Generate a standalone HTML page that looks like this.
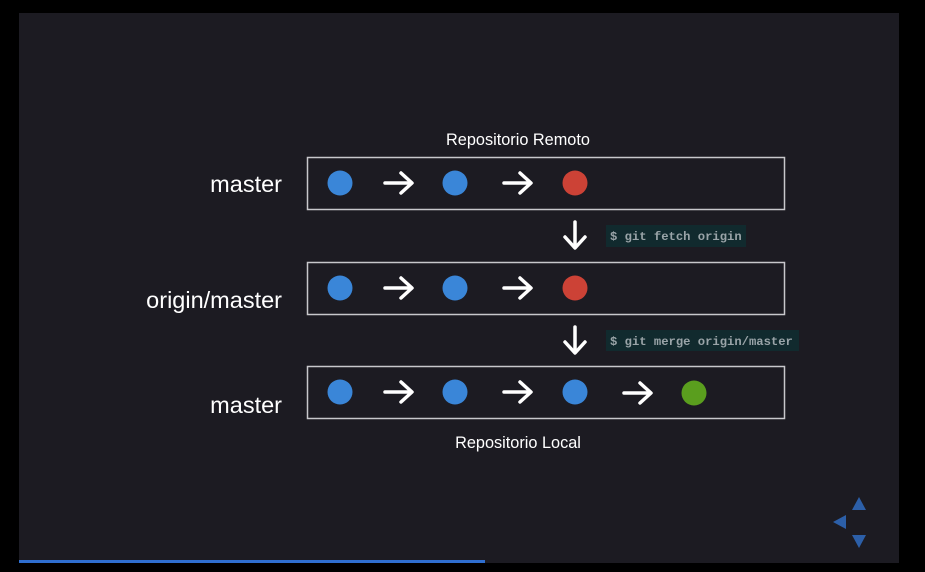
<!DOCTYPE html>
<html><head><meta charset="utf-8"><style>
html,body{margin:0;padding:0;background:#000;width:925px;height:572px;overflow:hidden}
</style></head><body>
<svg width="925" height="572" viewBox="0 0 925 572" xmlns="http://www.w3.org/2000/svg">
<rect x="0" y="0" width="925" height="572" fill="#000"/>
<rect x="19" y="13" width="880" height="550" fill="#1c1b22"/>
<rect x="19" y="560" width="466" height="3" fill="#2f6fd0"/>
<g font-family="Liberation Sans, DejaVu Sans, sans-serif" fill="#fff">
<text x="518" y="145" font-size="16.3" text-anchor="middle">Repositorio Remoto</text>
<text x="518" y="448" font-size="16.3" text-anchor="middle">Repositorio Local</text>
<text x="282" y="192" font-size="23.5" text-anchor="end">master</text>
<text x="282" y="308" font-size="23.5" text-anchor="end">origin/master</text>
<text x="282" y="413" font-size="23.5" text-anchor="end">master</text>
</g>
<g fill="none" stroke="#c8c8cc" stroke-width="1.5">
<rect x="307.5" y="157.5" width="477" height="52"/>
<rect x="307.5" y="262.5" width="477" height="52"/>
<rect x="307.5" y="366.5" width="477" height="52"/>
</g>
<g>
<circle cx="340" cy="183" r="12.5" fill="#3a86d8"/>
<circle cx="455" cy="183" r="12.5" fill="#3a86d8"/>
<circle cx="575" cy="183" r="12.5" fill="#cc4236"/>
<circle cx="340" cy="288" r="12.5" fill="#3a86d8"/>
<circle cx="455" cy="288" r="12.5" fill="#3a86d8"/>
<circle cx="575" cy="288" r="12.5" fill="#cc4236"/>
<circle cx="340" cy="392" r="12.5" fill="#3a86d8"/>
<circle cx="455" cy="392" r="12.5" fill="#3a86d8"/>
<circle cx="575" cy="392" r="12.5" fill="#3a86d8"/>
<circle cx="694" cy="393" r="12.5" fill="#5a9e1e"/>
</g>
<g fill="none" stroke="#fff" stroke-width="3.5" stroke-linecap="round" stroke-linejoin="round">
<path d="M385 183h26M401 173l11 10-11 10"/>
<path d="M504 183h26M520 173l11 10-11 10"/>
<path d="M385 288h26M401 278l11 10-11 10"/>
<path d="M504 288h26M520 278l11 10-11 10"/>
<path d="M385 392h26M401 382l11 10-11 10"/>
<path d="M504 392h26M520 382l11 10-11 10"/>
<path d="M624 393h26M640 383l11 10-11 10"/>
<path d="M575 222v25M565 237l10 11 10-11"/>
<path d="M575 327v25M565 342l10 11 10-11"/>
</g>
<rect x="606" y="225" width="140" height="22" fill="#112a2e"/>
<rect x="606" y="330" width="193" height="21" fill="#112a2e"/>
<g font-family="Liberation Mono, DejaVu Sans Mono, monospace" font-size="12.2" font-weight="bold" fill="#9aa4a8">
<text x="610" y="240">$ git fetch origin</text>
<text x="610" y="345">$ git merge origin/master</text>
</g>
<g fill="#2c5fa8">
<polygon points="859,497 852,510 866,510"/>
<polygon points="833,522 846,515 846,529"/>
<polygon points="852,535 866,535 859,548"/>
</g>
</svg>
</body></html>
